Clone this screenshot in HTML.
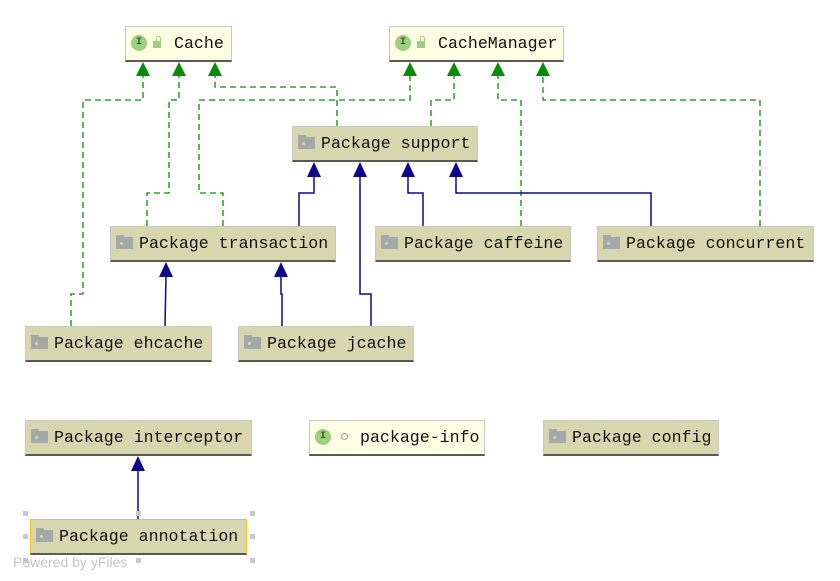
<!DOCTYPE html>
<html><head><meta charset="utf-8"><style>
body{margin:0;width:840px;height:581px;background:#fff;position:relative;overflow:hidden;font-family:"Liberation Mono","DejaVu Sans Mono",monospace;}
.b{position:absolute;box-sizing:border-box;height:36px;background:#d8d6ae;border:1px solid #c8c8c4;border-bottom:2px solid #5a5a50;font-size:16.6px;line-height:34px;color:#111;white-space:nowrap}
.i{background:#fdfde4}
.f{display:inline-block;width:17px;height:12px;background:#a3a9a8;margin:0 6px 0 5px;vertical-align:-1px;position:relative}
.f:before{content:"";position:absolute;left:0;top:-2px;width:8px;height:3px;background:#a3a9a8}
.f:after{content:"";position:absolute;left:4px;top:5px;width:3px;height:3px;background:#d8d6ae;border-radius:50%}
.c{display:inline-block;width:16px;height:16px;border-radius:50%;background:#9fcf7e;color:#3a5a28;font-size:10px;line-height:16px;text-align:center;font-weight:bold;margin:0 6px 0 5px;vertical-align:middle;position:relative;top:-1px}
.l{display:inline-block;width:8px;height:7px;background:#9fcf7e;margin-right:13px;position:relative;vertical-align:0px}
.l:before{content:"";position:absolute;left:3px;top:-5px;width:5px;height:5px;border:1.5px solid #9fcf7e;border-bottom:none;border-radius:3px 3px 0 0;box-sizing:border-box}
</style></head><body>
<svg width="840" height="581" style="position:absolute;left:0;top:0">
<g fill="none" stroke="#0a8a0a" stroke-width="1.3" stroke-dasharray="6,4">
<polyline points="71,326 71,294 83,294 83,100 143,100 143,76"/>
<polyline points="147,226 147,193 169,193 169,100 179,100 179,76"/>
<polyline points="223,226 223,193 199,193 199,100 410,100 410,76"/>
<polyline points="337,126 337,87 215,87 215,76"/>
<polyline points="431,126 431,100 454,100 454,76"/>
<polyline points="521,226 521,100 498,100 498,76"/>
<polyline points="760,226 760,100 543,100 543,76"/>
</g>
<g fill="#0a8a0a">
<polygon points="143,62 136,76 150,76"/><polygon points="179,62 172,76 186,76"/><polygon points="215,62 208,76 222,76"/>
<polygon points="410,62 403,76 417,76"/><polygon points="454,62 447,76 461,76"/><polygon points="498,62 491,76 505,76"/><polygon points="543,62 536,76 550,76"/>
</g>
<g fill="none" stroke="#0a0a8a" stroke-width="1.5">
<polyline points="299,226 299,193 314,193 314,176"/>
<polyline points="371,326 371,294 360,294 360,176"/>
<polyline points="423,226 423,193 408,193 408,176"/>
<polyline points="651,226 651,193 456,193 456,176"/>
<polyline points="165,326 166,276"/>
<polyline points="282,326 282,294 281,294 281,276"/>
<polyline points="138,519 138,470"/>
</g>
<g fill="#0a0a8a">
<polygon points="314,162 307,177 321,177"/><polygon points="360,162 353,177 367,177"/><polygon points="408,162 401,177 415,177"/><polygon points="456,162 449,177 463,177"/>
<polygon points="166,262 159,277 173,277"/><polygon points="281,262 274,277 288,277"/><polygon points="138,456 131,471 145,471"/>
</g>
<g fill="#c8c8c8">
<rect x="23" y="511" width="5" height="5"/><rect x="136" y="511" width="5" height="5"/><rect x="250" y="511" width="5" height="5"/>
<rect x="23" y="534" width="5" height="5"/><rect x="250" y="534" width="5" height="5"/>
<rect x="23" y="558" width="5" height="5"/><rect x="136" y="558" width="5" height="5"/><rect x="250" y="558" width="5" height="5"/>
</g>
<text x="13" y="567" font-family="Liberation Sans,sans-serif" font-size="14" fill="#c4c4c4">Powered by yFiles</text>
</svg>
<div class="b i" style="left:125px;top:26px;width:107px"><span class="c">I</span><span class="l"></span>Cache</div>
<div class="b i" style="left:389px;top:26px;width:175px"><span class="c">I</span><span class="l"></span>CacheManager</div>
<div class="b" style="left:292px;top:126px;width:186px"><span class="f"></span>Package support</div>
<div class="b" style="left:110px;top:226px;width:226px"><span class="f"></span>Package transaction</div>
<div class="b" style="left:375px;top:226px;width:196px"><span class="f"></span>Package caffeine</div>
<div class="b" style="left:597px;top:226px;width:217px"><span class="f"></span>Package concurrent</div>
<div class="b" style="left:25px;top:326px;width:187px"><span class="f"></span>Package ehcache</div>
<div class="b" style="left:238px;top:326px;width:176px"><span class="f"></span>Package jcache</div>
<div class="b" style="left:25px;top:420px;width:227px"><span class="f"></span>Package interceptor</div>
<div class="b i" style="left:309px;top:420px;width:176px"><span class="c">I</span><span style="display:inline-block;width:5px;height:5px;border:1px solid #999;border-radius:50%;margin:0 12px 0 4px;vertical-align:2px"></span>package-info</div>
<div class="b" style="left:543px;top:420px;width:176px"><span class="f"></span>Package config</div>
<div class="b" style="left:30px;top:519px;width:217px;border:1px solid #f0c020;border-bottom:2px solid #5a5a50"><span class="f"></span>Package annotation</div>
</body></html>
